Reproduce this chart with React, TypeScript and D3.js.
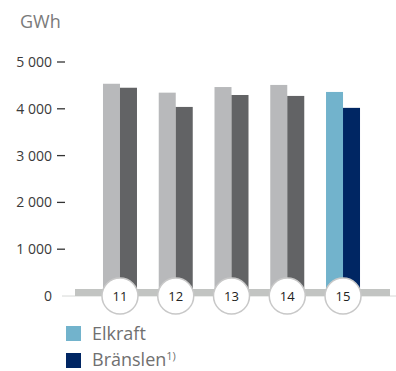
import React from "react";
import * as d3 from "d3";

const years = ["11", "12", "13", "14", "15"];
const elkraft = [4535, 4345, 4465, 4510, 4360];
const bransle = [4450, 4040, 4295, 4275, 4020];
const yTicks = [0, 1000, 2000, 3000, 4000, 5000];
const unitLabel = "GWh";
const legendLabels = ["Elkraft", "Bränslen"];

const W = 396;
const H = 371;

export default function App() {
  const y = d3.scaleLinear().domain([0, 5000]).range([296, 62]);
  const x = d3.scaleBand<string>().domain(years).range([92.1, 370.9]).padding(0);
  const bw = 17;
  const fmt = (v: number) => d3.format(",")(v).replace(/,/g, " ");
  const lightCol = (i: number) => (i === years.length - 1 ? "#72b3cc" : "#b8b9bb");
  const darkCol = (i: number) => (i === years.length - 1 ? "#002663" : "#626365");
  const font = "'Open Sans', sans-serif";

  return (
    <svg
      width={W}
      height={H}
      style={{ position: "absolute", left: 0, top: 0, background: "#fff" }}
      fontFamily={font}
    >
      <text x={20} y={28} fontSize={18} fill="#7a7a7a">{unitLabel}</text>
      {yTicks.map((t) => (
        <g key={t}>
          <text x={52} y={y(t)} dy="0.35em" textAnchor="end" fontSize={14} fill="#3a3a3a">
            {t === 0 ? "0" : fmt(t)}
          </text>
          {t !== 0 && (
            <line x1={57} x2={65} y1={y(t)} y2={y(t)} stroke="#333" strokeWidth={1.3} />
          )}
        </g>
      ))}
      <line x1={62} x2={W} y1={y(0)} y2={y(0)} stroke="#d6d8d6" strokeWidth={1} />
      {years.map((yr, i) => {
        const c = (x(yr) as number) + x.bandwidth() / 2;
        return (
          <g key={yr}>
            <rect x={c - bw} y={y(elkraft[i])} width={bw} height={y(0) - y(elkraft[i])} fill={lightCol(i)} />
            <rect x={c} y={y(bransle[i])} width={bw} height={y(0) - y(bransle[i])} fill={darkCol(i)} />
          </g>
        );
      })}
      <rect x={75} y={289} width={315} height={7} fill="#c2c4c2" />
      {years.map((yr) => {
        const c = (x(yr) as number) + x.bandwidth() / 2;
        return (
          <g key={"c" + yr}>
            <circle cx={c} cy={y(0)} r={18} fill="#fff" stroke="#c8c8c8" strokeWidth={1.5} />
            <text x={c} y={y(0)} dy="0.35em" textAnchor="middle" fontSize={13} fill="#222">
              {yr}
            </text>
          </g>
        );
      })}
      <rect x={66} y={326} width={15} height={15} fill="#72b3cc" />
      <text x={92} y={340} fontSize={18} fill="#707070">{legendLabels[0]}</text>
      <rect x={66} y={353} width={15} height={15} fill="#002663" />
      <text x={92} y={366} fontSize={18} fill="#707070">
        {legendLabels[1]}
        <tspan fontSize={11} dy={-6}>1)</tspan>
      </text>
    </svg>
  );
}
